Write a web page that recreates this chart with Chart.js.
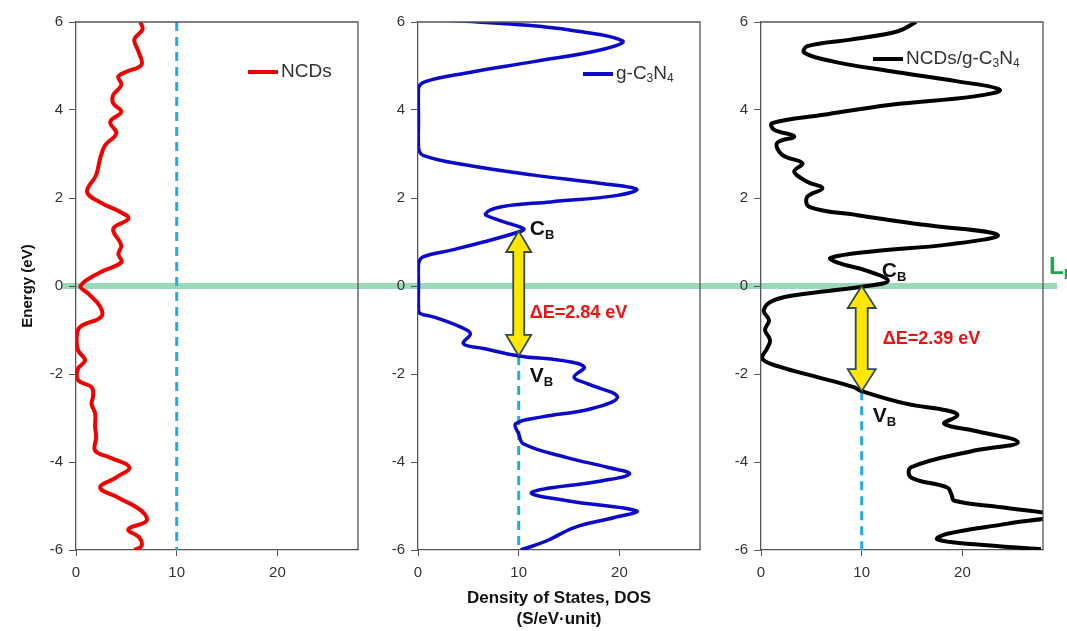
<!DOCTYPE html>
<html>
<head>
<meta charset="utf-8">
<script src="https://cdn.jsdelivr.net/npm/chart.js@4.4.1/dist/chart.umd.min.js"></script>
<style>
  body { margin: 0; background: #fff; }
  #wrap { position: relative; width: 1067px; height: 631px; overflow: hidden; }
  canvas { position: absolute; top: 0; }
</style>
</head>
<body>
<div id="wrap">
  <canvas id="c1" width="370" height="631" style="left:0px"></canvas>
  <canvas id="c2" width="342" height="631" style="left:370px"></canvas>
  <canvas id="c3" width="355" height="631" style="left:712px"></canvas>
</div>
<script>
// DOS curves, energy (eV) down the y axis, DOS along x
const ncdsEnergy = [6.0, 5.83, 5.6, 5.33, 5.03, 4.87, 4.76, 4.57, 4.34, 4.15, 3.96, 3.73, 3.47, 3.2, 2.9, 2.52, 2.14, 1.9, 1.68, 1.53, 1.3, 0.92, 0.73, 0.54, 0.31, 0.0, -0.17, -0.47, -0.7, -0.93, -1.16, -1.46, -1.69, -1.88, -2.14, -2.3, -2.49, -2.68, -2.9, -3.21, -3.44, -3.74, -3.9, -4.12, -4.35, -4.58, -4.81, -5.11, -5.34, -5.53, -5.72, -5.91, -6.0];
const ncdsDos = [6.4, 6.6, 5.8, 6.2, 6.5, 5.0, 4.2, 4.5, 3.7, 3.7, 4.5, 3.4, 4.0, 2.9, 2.4, 2.0, 1.1, 2.4, 4.4, 5.2, 3.7, 4.5, 4.2, 4.5, 2.4, 0.45, 1.2, 2.4, 2.5, 0.4, 0.07, 0.2, 0.9, 0.2, 0.2, 1.55, 1.7, 1.55, 1.9, 1.9, 2.0, 1.9, 3.4, 5.3, 4.0, 2.4, 4.2, 6.5, 7.0, 5.2, 6.3, 6.5, 5.8];

const gcnEnergy = [6.05, 5.97, 5.85, 5.57, 5.37, 5.1, 4.84, 4.65, 4.5, 3.8, 3.15, 2.97, 2.75, 2.52, 2.33, 2.2, 2.06, 1.91, 1.8, 1.64, 1.53, 1.41, 1.3, 1.25, 1.0, 0.81, 0.66, 0.5, 0.0, -0.5, -0.62, -0.7, -0.93, -1.08, -1.31, -1.42, -1.59, -1.69, -1.84, -2.07, -2.22, -2.52, -2.79, -2.98, -3.13, -3.36, -3.59, -3.9, -4.12, -4.27, -4.43, -4.69, -4.88, -5.11, -5.26, -5.49, -5.79, -6.0];
const gcnDos = [2, 8, 14, 20.3, 18.2, 11.5, 4.8, 0.8, 0.05, 0.05, 0.05, 0.5, 4.8, 11.5, 18.2, 21.7, 19.8, 13.2, 8.3, 6.7, 7.6, 9.2, 10.5, 10.3, 6.5, 3.2, 0.5, 0.05, 0.05, 0.05, 0.17, 1.5, 4.2, 5.2, 4.5, 6.5, 10, 14.2, 16.5, 15.5, 16.8, 19.8, 17.2, 12.2, 9.7, 10, 10.5, 14.8, 18.8, 21, 18.2, 11.3, 14.8, 21.7, 19.5, 15.5, 12.8, 10.2];

const hybEnergy = [6.0, 5.79, 5.6, 5.45, 5.3, 5.1, 4.88, 4.65, 4.46, 4.31, 4.12, 3.89, 3.7, 3.55, 3.4, 3.25, 2.98, 2.79, 2.6, 2.37, 2.22, 2.03, 1.8, 1.61, 1.39, 1.16, 0.94, 0.79, 0.64, 0.53, 0.34, 0.12, 0.0, -0.17, -0.32, -0.55, -0.78, -1.0, -1.23, -1.42, -1.65, -1.84, -2.07, -2.3, -2.39, -2.68, -2.83, -2.94, -3.13, -3.29, -3.55, -3.74, -4.12, -4.35, -4.58, -4.73, -4.88, -5.03, -5.22, -5.4, -5.63, -5.76, -5.87, -5.98];
const hybDos = [15.4, 13.6, 8.9, 4.6, 4.3, 7.2, 12.9, 19.5, 23.7, 21.2, 12.9, 6.2, 1.1, 1.3, 3.3, 1.6, 2.1, 4.1, 3.3, 4.6, 6.1, 4.6, 4.8, 9.6, 16.2, 23.5, 18.5, 11.2, 6.9, 7.6, 10.6, 12.6, 10.5, 4.6, 1.3, 0.27, 0.8, 0.4, 0.9, 0.6, 0.1, 1.9, 5.6, 9.2, 10, 14.5, 18.5, 19.5, 18.2, 21.2, 25.5, 21.2, 14.9, 14.9, 18.5, 18.9, 19.2, 23.9, 29, 24.5, 18.5, 17.5, 21.2, 27.8];

// band edges (eV) and gaps marked with arrows
const gcnCB = 1.25, gcnVB = -1.59, gcnGap = 2.84;
const hybCB = 0.0, hybVB = -2.39, hybGap = 2.39;
const markerDos = 10;
const fermiLevel = 0;

const xTickStep = 10, xMax = 28;
const yTickStep = 2, yMin = -6, yMax = 6;

const FONT = "'Liberation Sans', Arial, sans-serif";

function pts(xs, ys) {
    return xs.map((x, i) => { return { x: x, y: ys[i] } });
}

// green Fermi level band, drawn first so everything else sits on top
const fermiBand = {
    id: 'fermiBand',
    beforeDraw(chart, args, opts) {
        const ctx = chart.ctx;
        const y = chart.scales.y.getPixelForValue(fermiLevel);
        ctx.save();
        ctx.fillStyle = 'rgba(120, 205, 160, 0.75)';
        ctx.fillRect(opts.from, y - 3, opts.to - opts.from, 6);
        ctx.restore();
    }
};

// top and right edges of the plot box
const frame = {
    id: 'frame',
    afterDraw(chart) {
        const a = chart.chartArea, ctx = chart.ctx;
        ctx.save();
        ctx.strokeStyle = '#555';
        ctx.lineWidth = 1.3;
        ctx.beginPath();
        ctx.moveTo(a.left, a.top);
        ctx.lineTo(a.right, a.top);
        ctx.lineTo(a.right, a.bottom);
        ctx.stroke();
        ctx.restore();
    }
};

// yellow double arrow between band edges
const gapArrow = {
    id: 'gapArrow',
    afterDatasetsDraw(chart, args, opts) {
        if (!opts.show) return;
        const ctx = chart.ctx;
        const x = chart.scales.x.getPixelForValue(opts.x);
        const y1 = chart.scales.y.getPixelForValue(opts.top);
        const y2 = chart.scales.y.getPixelForValue(opts.bottom);
        const s = opts.shaft / 2, h = opts.headW / 2, l = opts.headL;
        ctx.save();
        ctx.beginPath();
        ctx.moveTo(x, y1);
        ctx.lineTo(x + h, y1 + l);
        ctx.lineTo(x + s, y1 + l);
        ctx.lineTo(x + s, y2 - l);
        ctx.lineTo(x + h, y2 - l);
        ctx.lineTo(x, y2);
        ctx.lineTo(x - h, y2 - l);
        ctx.lineTo(x - s, y2 - l);
        ctx.lineTo(x - s, y1 + l);
        ctx.lineTo(x - h, y1 + l);
        ctx.closePath();
        ctx.fillStyle = '#ffe800';
        ctx.fill();
        ctx.strokeStyle = '#2e4a4e';
        ctx.lineWidth = 1.8;
        ctx.lineJoin = 'miter';
        ctx.stroke();
        ctx.restore();
    }
};

// text with an optional subscript, placed by data value
function subText(ctx, x, y, t) {
    ctx.font = (t.bold ? 'bold ' : '') + t.size + 'px ' + FONT;
    ctx.fillStyle = t.color;
    ctx.textBaseline = 'middle';
    ctx.textAlign = 'left';
    ctx.fillText(t.text, x, y);
    let w = ctx.measureText(t.text).width;
    if (t.sub) {
        ctx.font = (t.bold ? 'bold ' : '') + Math.round(t.size * 0.62) + 'px ' + FONT;
        ctx.fillText(t.sub, x + w, y + t.size * 0.32);
    }
}

const labels = {
    id: 'labels',
    afterDraw(chart, args, opts) {
        const ctx = chart.ctx;
        ctx.save();
        (opts.items || []).forEach((t) => {
            subText(ctx, chart.scales.x.getPixelForValue(t.x), chart.scales.y.getPixelForValue(t.y), t);
        });
        ctx.restore();
    }
};

// legend: line sample plus name with subscripts
const seriesKey = {
    id: 'seriesKey',
    afterDraw(chart, args, opts) {
        const a = chart.chartArea, ctx = chart.ctx;
        const x0 = a.left + opts.dx, y0 = a.top + opts.dy;
        ctx.save();
        ctx.strokeStyle = opts.color;
        ctx.lineWidth = 4;
        ctx.beginPath();
        ctx.moveTo(x0, y0);
        ctx.lineTo(x0 + 30, y0);
        ctx.stroke();
        ctx.fillStyle = '#333';
        ctx.textBaseline = 'middle';
        let x = x0 + 33;
        opts.parts.forEach((p) => {
            const sub = p.startsWith('_');
            const txt = sub ? p.slice(1) : p;
            ctx.font = (sub ? 12 : 19) + 'px ' + FONT;
            ctx.fillText(txt, x, sub ? y0 + 5 : y0);
            x += ctx.measureText(txt).width;
        });
        ctx.restore();
    }
};

function curve(xs, ys, color, width) {
    return {
        data: pts(xs, ys),
        showLine: true,
        borderColor: color,
        borderWidth: width,
        pointRadius: 0,
        tension: 0.4,
        order: 0
    };
}

function dashed(yTop) {
    return {
        data: [{ x: markerDos, y: yTop }, { x: markerDos, y: yMin }],
        showLine: true,
        borderColor: '#27a9e1',
        borderWidth: 3,
        borderDash: [9, 6],
        pointRadius: 0,
        order: 2
    };
}

function makePanel(id, cfg) {
    return new Chart(document.getElementById(id), {
        type: 'scatter',
        data: { datasets: cfg.datasets },
        options: {
            responsive: false,
            animation: false,
            devicePixelRatio: 1,
            layout: { padding: { top: 22, right: cfg.padRight, left: 0, bottom: 0 } },
            plugins: {
                legend: { display: false },
                tooltip: { enabled: false },
                fermiBand: cfg.band,
                gapArrow: cfg.arrow || { show: false },
                labels: { items: cfg.labels || [] },
                seriesKey: cfg.key
            },
            scales: {
                x: {
                    type: 'linear',
                    min: 0,
                    max: xMax,
                    afterFit: (s) => { s.height = 81 },
                    ticks: { stepSize: xTickStep, includeBounds: false, color: '#333', padding: 8, font: { family: FONT, size: 15 } },
                    grid: { drawOnChartArea: false, tickLength: 6, color: '#555' },
                    border: { color: '#555', width: 1.3 },
                    title: cfg.xTitle || { display: false }
                },
                y: {
                    type: 'linear',
                    min: yMin,
                    max: yMax,
                    afterFit: (s) => { s.width = cfg.yWidth },
                    ticks: { stepSize: yTickStep, color: '#333', padding: 6, font: { family: FONT, size: 15 } },
                    grid: { drawOnChartArea: false, tickLength: 7, color: '#555' },
                    border: { color: '#555', width: 1.3 },
                    title: cfg.yTitle || { display: false }
                }
            }
        },
        plugins: [fermiBand, frame, gapArrow, labels, seriesKey]
    });
}

makePanel('c1', {
    datasets: [curve(ncdsDos, ncdsEnergy, '#f00000', 4), dashed(yMax)],
    padRight: 12,
    yWidth: 76,
    band: { from: 62, to: 370 },
    key: { dx: 172, dy: 50, color: '#f00000', parts: ['NCDs'] },
    yTitle: { display: true, text: 'Energy (eV)', color: '#111', padding: { top: 19, bottom: 0 }, font: { family: FONT, size: 15, weight: 'bold' } }
});

makePanel('c2', {
    datasets: [curve(gcnDos, gcnEnergy, '#0a0ac8', 3.5), dashed(gcnVB)],
    padRight: 12,
    yWidth: 48,
    band: { from: 0, to: 342 },
    key: { dx: 165, dy: 52, color: '#0a0ac8', parts: ['g-C', '_3', 'N', '_4'] },
    arrow: { show: true, x: markerDos, top: gcnCB, bottom: gcnVB, shaft: 11, headW: 25, headL: 21 },
    labels: [
        { text: 'C', sub: 'B', x: 11.1, y: 1.3, size: 21, bold: true, color: '#111' },
        { text: 'V', sub: 'B', x: 11.1, y: -2.05, size: 21, bold: true, color: '#111' },
        { text: 'ΔE=' + gcnGap.toFixed(2) + ' eV', x: 11.1, y: -0.62, size: 18, bold: true, color: '#f01010' }
    ],
    xTitle: { display: true, text: ['Density of States, DOS', '(S/eV·unit)'], color: '#111', padding: { top: 0, bottom: 1 }, font: { family: FONT, size: 17, weight: 'bold', lineHeight: 1.25 } }
});

makePanel('c3', {
    datasets: [curve(hybDos, hybEnergy, '#000000', 4), dashed(hybVB)],
    padRight: 24,
    yWidth: 49,
    band: { from: 0, to: 345 },
    key: { dx: 112, dy: 37, color: '#000000', parts: ['NCDs/g-C', '_3', 'N', '_4'] },
    arrow: { show: true, x: markerDos, top: hybCB, bottom: hybVB, shaft: 12, headW: 28, headL: 22 },
    labels: [
        { text: 'C', sub: 'B', x: 12.0, y: 0.34, size: 21, bold: true, color: '#111' },
        { text: 'V', sub: 'B', x: 11.1, y: -2.95, size: 21, bold: true, color: '#111' },
        { text: 'ΔE=' + hybGap.toFixed(2) + ' eV', x: 12.1, y: -1.2, size: 18, bold: true, color: '#f01010' },
        { text: 'L', sub: 'F', x: 28.6, y: 0.42, size: 24, bold: true, color: '#1fa64a' }
    ]
});
</script>
</body>
</html>
